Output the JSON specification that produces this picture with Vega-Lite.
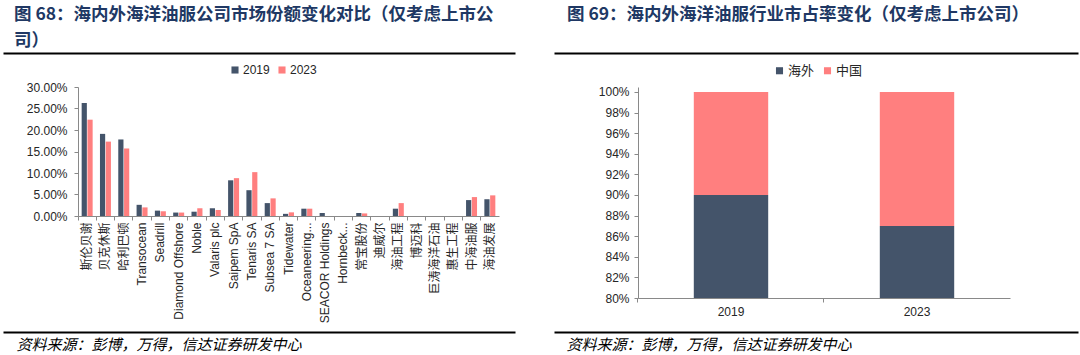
{
  "$schema": "https://vega.github.io/schema/vega-lite/v6.json",
  "background": "white",
  "padding": {"left": 14, "top": 5, "right": 0, "bottom": 0},
  "config": {
    "view": {"stroke": null},
    "axis": {"labelFont": "Liberation Sans", "labelFontSize": 12, "labelColor": "#262626", "domainColor": "#898989", "tickColor": "#898989", "tickSize": 4, "grid": false},
    "legend": {"labelFont": "Liberation Sans", "labelFontSize": 12, "labelColor": "#262626", "symbolType": "square", "symbolSize": 50, "orient": "none", "direction": "horizontal", "labelOffset": 2, "columnPadding": 6, "symbolStrokeWidth": 0},
    "title": {"font": "Noto Sans CJK SC", "fontWeight": "bold", "fontSize": 17.5, "color": "#203864", "anchor": "start", "frame": "group"}
  },
  "resolve": {"scale": {"color": "independent"}, "legend": {"color": "independent"}},
  "spacing": -24,
  "hconcat": [
    {
      "title": {"text": ["图 68：海内外海洋油服公司市场份额变化对比（仅考虑上市公", "司）"], "lineHeight": 26, "dx": -64, "offset": 4},
      "width": 421, "height": 129,
      "data": {"values": [
        {"company": "斯伦贝谢", "year": "2019", "share": 0.263},
        {"company": "斯伦贝谢", "year": "2023", "share": 0.224},
        {"company": "贝克休斯", "year": "2019", "share": 0.191},
        {"company": "贝克休斯", "year": "2023", "share": 0.173},
        {"company": "哈利巴顿", "year": "2019", "share": 0.178},
        {"company": "哈利巴顿", "year": "2023", "share": 0.157},
        {"company": "Transocean", "year": "2019", "share": 0.026},
        {"company": "Transocean", "year": "2023", "share": 0.020},
        {"company": "Seadrill", "year": "2019", "share": 0.0125},
        {"company": "Seadrill", "year": "2023", "share": 0.011},
        {"company": "Diamond Offshore", "year": "2019", "share": 0.008},
        {"company": "Diamond Offshore", "year": "2023", "share": 0.008},
        {"company": "Noble", "year": "2019", "share": 0.010},
        {"company": "Noble", "year": "2023", "share": 0.018},
        {"company": "Valaris plc", "year": "2019", "share": 0.018},
        {"company": "Valaris plc", "year": "2023", "share": 0.014},
        {"company": "Saipem SpA", "year": "2019", "share": 0.083},
        {"company": "Saipem SpA", "year": "2023", "share": 0.088},
        {"company": "Tenaris SA", "year": "2019", "share": 0.060},
        {"company": "Tenaris SA", "year": "2023", "share": 0.102},
        {"company": "Subsea 7 SA", "year": "2019", "share": 0.030},
        {"company": "Subsea 7 SA", "year": "2023", "share": 0.041},
        {"company": "Tidewater", "year": "2019", "share": 0.005},
        {"company": "Tidewater", "year": "2023", "share": 0.0085},
        {"company": "Oceaneering...", "year": "2019", "share": 0.017},
        {"company": "Oceaneering...", "year": "2023", "share": 0.017},
        {"company": "SEACOR Holdings", "year": "2019", "share": 0.007},
        {"company": "SEACOR Holdings", "year": "2023", "share": 0.0},
        {"company": "Hornbeck...", "year": "2019", "share": 0.0},
        {"company": "Hornbeck...", "year": "2023", "share": 0.0},
        {"company": "常宝股份", "year": "2019", "share": 0.007},
        {"company": "常宝股份", "year": "2023", "share": 0.006},
        {"company": "迪威尔", "year": "2019", "share": 0.0},
        {"company": "迪威尔", "year": "2023", "share": 0.0},
        {"company": "海油工程", "year": "2019", "share": 0.017},
        {"company": "海油工程", "year": "2023", "share": 0.030},
        {"company": "博迈科", "year": "2019", "share": 0.0},
        {"company": "博迈科", "year": "2023", "share": 0.0},
        {"company": "巨涛海洋石油", "year": "2019", "share": 0.0},
        {"company": "巨涛海洋石油", "year": "2023", "share": 0.0},
        {"company": "惠生工程", "year": "2019", "share": 0.0},
        {"company": "惠生工程", "year": "2023", "share": 0.0},
        {"company": "中海油服", "year": "2019", "share": 0.037},
        {"company": "中海油服", "year": "2023", "share": 0.044},
        {"company": "海油发展", "year": "2019", "share": 0.039},
        {"company": "海油发展", "year": "2023", "share": 0.048}
      ]},
      "resolve": {"scale": {"x": "independent"}, "axis": {"x": "independent"}},
      "layer": [
        {
          "mark": {"type": "bar"},
          "encoding": {
            "x": {"field": "company", "type": "nominal", "sort": null,
                  "scale": {"paddingInner": 0.4, "paddingOuter": 0.2},
                  "axis": {"title": null, "labelAngle": -90, "labelAlign": "right", "labelBaseline": "middle", "bandPosition": -0.333, "labelPadding": 2, "labelLimit": 200, "labelFont": "Liberation Sans, Noto Sans CJK SC"}},
            "xOffset": {"field": "year", "type": "nominal", "scale": {"paddingInner": 0.1}},
            "y": {"field": "share", "type": "quantitative",
                  "scale": {"domain": [0, 0.3]},
                  "axis": {"title": null, "values": [0, 0.05, 0.1, 0.15, 0.2, 0.25, 0.3], "format": ".2%", "labelPadding": 7}},
            "color": {"field": "year", "type": "nominal",
                      "scale": {"domain": ["2019", "2023"], "range": ["#44546A", "#FF7F7F"]},
                      "legend": {"title": null, "legendX": 151, "legendY": -23}}
          }
        },
        {
          "mark": {"type": "point", "opacity": 0, "clip": true},
          "encoding": {
            "x": {"field": "share", "type": "quantitative",
                  "scale": {"domain": [0, 1], "range": [-75, 437]},
                  "axis": {"orient": "top", "offset": 34, "labels": false, "ticks": false, "title": null, "domainColor": "#000000", "domainWidth": 2}},
            "y": {"field": "share", "type": "quantitative", "scale": {"domain": [0, 0.3]},
                  "axis": {"title": null, "values": [0, 0.05, 0.1, 0.15, 0.2, 0.25, 0.3], "format": ".2%", "labelPadding": 7}}
          }
        },
        {
          "mark": {"type": "point", "opacity": 0, "clip": true},
          "encoding": {
            "x": {"field": "share", "type": "quantitative",
                  "scale": {"domain": [0, 1], "range": [-75, 437]},
                  "axis": {"orient": "bottom", "offset": 116, "labels": false, "ticks": false, "domainColor": "#000000", "domainWidth": 2,
                           "title": "资料来源：彭博，万得，信达证券研发中心", "titleX": -62, "titleY": 5, "titleAlign": "left", "titleBaseline": "top",
                           "titleFont": "Noto Sans CJK SC", "titleFontSize": 15, "titleFontStyle": "italic", "titleFontWeight": "normal", "titleColor": "#000000"}},
            "y": {"field": "share", "type": "quantitative", "scale": {"domain": [0, 0.3]},
                  "axis": {"title": null, "values": [0, 0.05, 0.1, 0.15, 0.2, 0.25, 0.3], "format": ".2%", "labelPadding": 7}}
          }
        }
      ]
    },
    {
      "title": {"text": "图 69：海内外海洋油服行业市占率变化（仅考虑上市公司）", "dx": -71, "offset": 30},
      "width": 372, "height": 211,
      "data": {"values": [
        {"year": "2019", "region": "海外", "share": 0.90},
        {"year": "2019", "region": "中国", "share": 0.10},
        {"year": "2023", "region": "海外", "share": 0.87},
        {"year": "2023", "region": "中国", "share": 0.13}
      ]},
      "resolve": {"scale": {"x": "independent"}, "axis": {"x": "independent"}},
      "layer": [
        {
          "mark": {"type": "bar", "clip": true},
          "encoding": {
            "x": {"field": "year", "type": "nominal",
                  "scale": {"paddingInner": 0.6, "paddingOuter": 0.3},
                  "axis": {"title": null, "labelAngle": 0, "bandPosition": -0.76, "labelPadding": 4}},
            "y": {"field": "share", "type": "quantitative", "stack": "zero",
                  "scale": {"domain": [0.8, 1.00485]},
                  "axis": {"title": null, "values": [0.8, 0.82, 0.84, 0.86, 0.88, 0.9, 0.92, 0.94, 0.96, 0.98, 1.0], "format": ".0%", "labelPadding": 5}},
            "color": {"field": "region", "type": "nominal",
                      "scale": {"domain": ["海外", "中国"], "range": ["#44546A", "#FF7F7F"]},
                      "legend": {"title": null, "legendX": 135, "legendY": -23, "labelFont": "Noto Sans CJK SC", "labelFontSize": 13}},
            "order": {"field": "region", "sort": "descending"}
          }
        },
        {
          "mark": {"type": "point", "opacity": 0, "clip": true},
          "encoding": {
            "x": {"field": "share", "type": "quantitative",
                  "scale": {"domain": [0, 1], "range": [-84, 440]},
                  "axis": {"orient": "top", "offset": 34, "labels": false, "ticks": false, "title": null, "domainColor": "#000000", "domainWidth": 2}},
            "y": {"field": "share", "type": "quantitative", "stack": null, "scale": {"domain": [0.8, 1.00485]},
                  "axis": {"title": null, "values": [0.8, 0.82, 0.84, 0.86, 0.88, 0.9, 0.92, 0.94, 0.96, 0.98, 1.0], "format": ".0%", "labelPadding": 5}}
          }
        },
        {
          "mark": {"type": "point", "opacity": 0, "clip": true},
          "encoding": {
            "x": {"field": "share", "type": "quantitative",
                  "scale": {"domain": [0, 1], "range": [-84, 440]},
                  "axis": {"orient": "bottom", "offset": 34, "labels": false, "ticks": false, "domainColor": "#000000", "domainWidth": 2,
                           "title": "资料来源：彭博，万得，信达证券研发中心", "titleX": -72, "titleY": 5, "titleAlign": "left", "titleBaseline": "top",
                           "titleFont": "Noto Sans CJK SC", "titleFontSize": 15, "titleFontStyle": "italic", "titleFontWeight": "normal", "titleColor": "#000000"}},
            "y": {"field": "share", "type": "quantitative", "stack": null, "scale": {"domain": [0.8, 1.00485]},
                  "axis": {"title": null, "values": [0.8, 0.82, 0.84, 0.86, 0.88, 0.9, 0.92, 0.94, 0.96, 0.98, 1.0], "format": ".0%", "labelPadding": 5}}
          }
        }
      ]
    }
  ]
}
